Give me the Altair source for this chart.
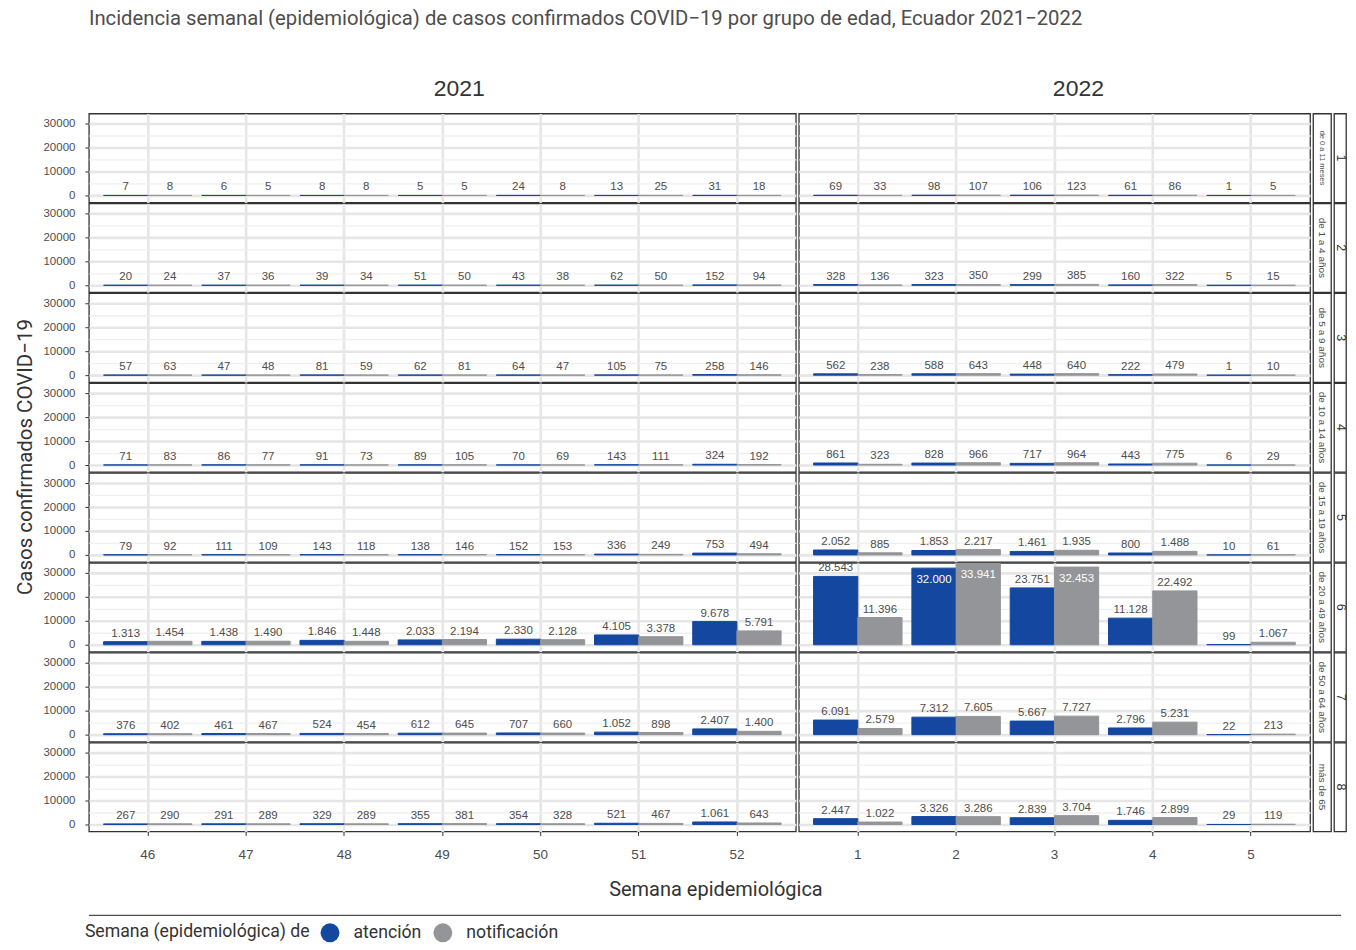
import altair as alt
import pandas as pd

title_text = "Incidencia semanal (epidemiológica) de casos confirmados COVID−19 por grupo de edad, Ecuador 2021−2022"
y_title = "Casos confirmados COVID−19"
x_title = "Semana epidemiológica"
legend_title = "Semana (epidemiológica) de"

weeks_2021 = [46, 47, 48, 49, 50, 51, 52]
weeks_2022 = [1, 2, 3, 4, 5]
series = ["atención", "notificación"]
group_numbers = [1, 2, 3, 4, 5, 6, 7, 8]
group_labels = ["de 0 a 11 meses", "de 1 a 4 años", "de 5 a 9 años", "de 10 a 14 años",
                "de 15 a 19 años", "de 20 a 49 años", "de 50 a 64 años", "más de 65"]

atencion_2021 = [
    [7, 6, 8, 5, 24, 13, 31],
    [20, 37, 39, 51, 43, 62, 152],
    [57, 47, 81, 62, 64, 105, 258],
    [71, 86, 91, 89, 70, 143, 324],
    [79, 111, 143, 138, 152, 336, 753],
    [1313, 1438, 1846, 2033, 2330, 4105, 9678],
    [376, 461, 524, 612, 707, 1052, 2407],
    [267, 291, 329, 355, 354, 521, 1061],
]
notificacion_2021 = [
    [8, 5, 8, 5, 8, 25, 18],
    [24, 36, 34, 50, 38, 50, 94],
    [63, 48, 59, 81, 47, 75, 146],
    [83, 77, 73, 105, 69, 111, 192],
    [92, 109, 118, 146, 153, 249, 494],
    [1454, 1490, 1448, 2194, 2128, 3378, 5791],
    [402, 467, 454, 645, 660, 898, 1400],
    [290, 289, 289, 381, 328, 467, 643],
]
atencion_2022 = [
    [69, 98, 106, 61, 1],
    [328, 323, 299, 160, 5],
    [562, 588, 448, 222, 1],
    [861, 828, 717, 443, 6],
    [2052, 1853, 1461, 800, 10],
    [28543, 32000, 23751, 11128, 99],
    [6091, 7312, 5667, 2796, 22],
    [2447, 3326, 2839, 1746, 29],
]
notificacion_2022 = [
    [33, 107, 123, 86, 5],
    [136, 350, 385, 322, 15],
    [238, 643, 640, 479, 10],
    [323, 966, 964, 775, 29],
    [885, 2217, 1935, 1488, 61],
    [11396, 33941, 32453, 22492, 1067],
    [2579, 7605, 7727, 5231, 213],
    [1022, 3286, 3704, 2899, 119],
]
y_ticks = [0, 5000, 10000, 15000, 20000, 25000, 30000]

BLUE = "#1447a0"
GRAY = "#939598"
TXT = "#4d4d4d"
DARK = "#333333"


def build(year, weeks, aten, notif):
    rows = []
    for gi, g in enumerate(group_numbers):
        for j, w in enumerate(weeks):
            rows.append({"anio": year, "grupo": g, "semana": w, "serie": series[0], "casos": aten[gi][j]})
            rows.append({"anio": year, "grupo": g, "semana": w, "serie": series[1], "casos": notif[gi][j]})
    return pd.DataFrame(rows)


df21 = build(2021, weeks_2021, atencion_2021, notificacion_2021)
df22 = build(2022, weeks_2022, atencion_2022, notificacion_2022)

major = "datum.value % 10000 === 0"
ROW_H = 89
SPACE = 1


def panel(data, weeks, width, left, hdr_dx):
    x_enc = alt.X("semana:O", sort=weeks,
                  scale=alt.Scale(paddingInner=0.1, paddingOuter=0.15),
                  axis=alt.Axis(title=None, labelAngle=0, domain=False, grid=True,
                                bandPosition=0.5, gridColor="#e6e6e6", gridWidth=2.6,
                                tickColor=DARK, tickSize=4, labelFont="Liberation Sans",
                                labelFontSize=13.5, labelColor=TXT, labelPadding=12))
    xo_enc = alt.XOffset("serie:N", sort=series, scale=alt.Scale(paddingInner=0, paddingOuter=0))
    y_axis = alt.Axis(values=y_ticks, format="d", title=None, domain=False,
                      labelExpr=f"{major} ? datum.label : ''",
                      labels=left, ticks=left,
                      tickColor=DARK, tickSize=4,
                      tickOpacity={"condition": {"test": major, "value": 1}, "value": 0},
                      labelFont="Liberation Sans", labelFontSize=11.5, labelColor=TXT,
                      labelPadding=10,
                      gridColor={"condition": {"test": major, "value": "#e6e6e6"}, "value": "#efefef"},
                      gridWidth={"condition": {"test": major, "value": 2.6}, "value": 1.3})
    y_enc = alt.Y("casos:Q", scale=alt.Scale(domain=[-2900, 34200], nice=False), axis=y_axis)
    color_scale = alt.Scale(domain=series, range=[BLUE, GRAY])
    base = alt.Chart().encode(x=x_enc, xOffset=xo_enc, y=y_enc)
    bars = base.mark_bar(strokeWidth=1).encode(
        y2=alt.datum(0),
        color=alt.Color("serie:N", scale=color_scale, legend=alt.Legend(title=legend_title)),
        stroke=alt.Stroke("serie:N", scale=color_scale, legend=None),
    )
    above = base.mark_text(baseline="alphabetic", dy=-5, font="Liberation Sans",
                           fontSize=11.5, color=TXT).encode(text="etiqueta:N").transform_filter(
        "datum.casos <= 30000")
    inside = base.mark_text(baseline="alphabetic", dy=15, font="Liberation Sans",
                            fontSize=11.5, color="white").encode(text="etiqueta:N").transform_filter(
        "datum.casos > 30000")
    first_cell = f"datum.grupo == 1 && datum.semana == {weeks[0]} && datum.serie == '{series[0]}'"
    year_hdr = alt.Chart().mark_text(font="Liberation Sans", fontSize=23, color=DARK).encode(
        text="anio:N", x=alt.value(width / 2 + hdr_dx), y=alt.value(-25)
    ).transform_filter(first_cell)
    layers = [bars, above, inside, year_hdr]
    if left:
        ytxt = alt.Chart().mark_text(font="Roboto", fontSize=20.5, color=DARK, angle=270).encode(
            text=alt.value(y_title), x=alt.value(-63), y=alt.value(344)
        ).transform_filter(first_cell)
        layers.append(ytxt)
    layer = alt.layer(*layers, data=data).transform_calculate(
        etiqueta="replace(format(datum.casos, ','), ',', '.')"
    ).properties(width=width, height=ROW_H)
    return layer.facet(row=alt.Row("grupo:O", header=alt.Header(labels=False, title=None)),
                       spacing=SPACE, bounds="flush")


f21 = panel(df21, weeks_2021, 708, True, 17)
f22 = panel(df22, weeks_2022, 512, False, 24)

strips_df = pd.DataFrame({"grupo": group_numbers, "etiqueta": group_labels})
strip_lab = alt.Chart(strips_df).mark_text(angle=90, font="Liberation Sans", color=TXT).encode(
    x=alt.value(9), y=alt.value(ROW_H / 2), text="etiqueta:N",
    size=alt.condition("datum.grupo == 1", alt.value(7.5), alt.value(10)),
).properties(width=18, height=ROW_H).facet(
    row=alt.Row("grupo:O", header=alt.Header(labels=False, title=None)), spacing=SPACE,
    bounds="flush")

strip_num = alt.Chart(strips_df).mark_text(angle=90, font="Liberation Sans", fontSize=12.5,
                                           color=DARK).encode(
    x=alt.value(6.5), y=alt.value(ROW_H / 2), text="grupo:N",
).properties(width=12, height=ROW_H).facet(
    row=alt.Row("grupo:O", header=alt.Header(labels=False, title=None)), spacing=SPACE,
    bounds="flush")

top = alt.hconcat(f21, f22, strip_lab, strip_num, spacing=1).resolve_scale(
    x="independent", xOffset="independent")

bottom_df = pd.DataFrame({"t": [x_title]})
BW = 1254
xt = alt.Chart(bottom_df).mark_text(font="Roboto", fontSize=20, color=DARK).encode(
    text="t:N", x=alt.value(628), y=alt.value(29))
rule = alt.Chart(bottom_df).mark_rule(color=TXT, strokeWidth=1.2).encode(
    x=alt.value(0), x2=alt.value(BW), y=alt.value(54))
bottom = alt.layer(xt, rule).properties(width=BW, height=55,
                                        view=alt.ViewBackground(strokeOpacity=0))

chart = alt.vconcat(top, bottom, spacing=0).properties(
    title=alt.TitleParams(title_text, font="Roboto", fontSize=20.3, fontWeight="normal",
                          color=TXT, anchor="start", frame="group", offset=48),
    padding={"left": 7, "top": 0, "right": 0, "bottom": 0},
).configure_view(stroke=DARK, strokeWidth=1.3).configure_legend(
    orient="none", legendX=-4, legendY=811,
    direction="horizontal", titleOrient="left", titleFont="Roboto",
    titleFontSize=17.7, titleFontWeight="normal", titleColor=DARK, titleLimit=400,
    labelFont="Roboto", labelFontSize=17.7, labelColor=DARK, labelLimit=200,
    symbolType="circle", symbolSize=360,
    symbolStrokeWidth=0, symbolOpacity=1, titlePadding=10, labelOffset=14, columnPadding=12,
    padding=0,
)

chart.save("out.html", embed_options={"renderer": "svg", "actions": False})
